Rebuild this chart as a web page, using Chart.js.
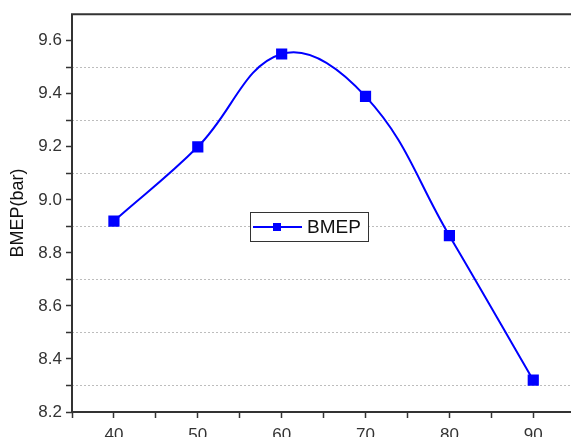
<!DOCTYPE html>
<html>
<head>
<meta charset="utf-8">
<script src="https://cdn.jsdelivr.net/npm/chart.js@4"></script>
<style>
  html, body { margin: 0; padding: 0; background: #fff; }
  #wrap { width: 571px; height: 437px; }
</style>
</head>
<body>
<div id="wrap"><canvas id="bmepChart"></canvas></div>
<script>
var loadPct = [40, 50, 60, 70, 80, 90];
var bmep = [8.92, 9.2, 9.55, 9.39, 8.865, 8.32];
var xTickVals = [35, 40, 45, 50, 55, 60, 65, 70, 75, 80, 85, 90];
var seriesName = 'BMEP';
var yTitle = 'BMEP(bar)';

var pts = [];
for (let i = 0; i < loadPct.length; i++) {
    pts.push({ x: loadPct[i], y: bmep[i] });
}

function isMinor(v) {
    return Math.abs(Math.round(v * 10) % 2) === 1;
}

var fontFam = '"Liberation Sans", Arial, sans-serif';

// axis lines, top frame line + floating legend box like Origin's
var frameAndLegend = {
    id: 'frameAndLegend',
    afterDraw(chart) {
        const c = chart.ctx;
        const a = chart.chartArea;
        c.save();
        c.strokeStyle = '#333';
        c.lineWidth = 2;
        c.beginPath();
        c.moveTo(a.right, a.top);
        c.lineTo(a.left, a.top);
        c.lineTo(a.left, a.bottom);
        c.lineTo(a.right, a.bottom);
        c.stroke();

        const ds = chart.data.datasets[0];
        const bx = 250, by = 212, bw = 118, bh = 29;
        c.fillStyle = '#fff';
        c.fillRect(bx, by, bw, bh);
        c.strokeStyle = '#333';
        c.lineWidth = 1;
        c.strokeRect(bx + 0.5, by + 0.5, bw, bh);
        c.strokeStyle = ds.borderColor;
        c.lineWidth = 2;
        c.beginPath();
        c.moveTo(bx + 3, by + 15);
        c.lineTo(bx + 52, by + 15);
        c.stroke();
        c.fillStyle = ds.backgroundColor;
        c.fillRect(bx + 23, by + 11, 8, 8);
        c.fillStyle = '#111';
        c.font = '19px ' + fontFam;
        c.textBaseline = 'middle';
        c.fillText(ds.label, bx + 57, by + 16);
        c.restore();
    }
};

new Chart(
    document.getElementById('bmepChart'),
    {
        type: 'scatter',
        data: {
            datasets: [
                {
                    label: seriesName,
                    data: pts,
                    showLine: true,
                    borderColor: '#0000ff',
                    backgroundColor: '#0000ff',
                    borderWidth: 2,
                    pointStyle: 'rect',
                    pointRadius: 6.5,
                    pointHoverRadius: 6.5,
                    tension: 0.4
                }
            ]
        },
        options: {
            animation: false,
            responsive: true,
            maintainAspectRatio: false,
            layout: { autoPadding: false, padding: { top: 11, right: 0, left: 0, bottom: 0 } },
            plugins: {
                legend: { display: false },
                tooltip: { enabled: false }
            },
            scales: {
                x: {
                    type: 'linear',
                    min: 35,
                    max: 94.5,
                    afterBuildTicks(scale) {
                        scale.ticks = xTickVals.map(v => ({ value: v }));
                    },
                    afterFit(scale) { scale.height = 25; },
                    border: { display: false },
                    grid: {
                        drawOnChartArea: false,
                        drawTicks: true,
                        tickLength: 6,
                        tickColor: '#333',
                        tickWidth: 1.5
                    },
                    ticks: {
                        autoSkip: false,
                        maxRotation: 0,
                        padding: 7,
                        color: '#333',
                        font: { size: 17, family: fontFam },
                        callback: v => (v % 10 === 0 ? v : '')
                    }
                },
                y: {
                    min: 8.2,
                    max: 9.7,
                    afterBuildTicks(scale) {
                        scale.ticks = scale.ticks.filter(t => t.value < 9.65);
                    },
                    afterFit(scale) { scale.width = 72; },
                    border: { display: false, dash: [2, 2] },
                    title: {
                        display: true,
                        text: yTitle,
                        color: '#111',
                        padding: { top: 7, bottom: 0 },
                        font: { size: 18, family: fontFam }
                    },
                    grid: {
                        drawTicks: true,
                        tickLength: 6,
                        tickWidth: 1.5,
                        tickColor: '#333',
                        tickBorderDash: [],
                        lineWidth: 1,
                        color: ctx => (ctx.tick && isMinor(ctx.tick.value) ? '#bdbdbd' : 'rgba(0,0,0,0)')
                    },
                    ticks: {
                        stepSize: 0.1,
                        autoSkip: false,
                        padding: 4,
                        color: '#333',
                        font: { size: 17, family: fontFam },
                        callback: v => (isMinor(v) ? '' : v.toFixed(1))
                    }
                }
            }
        },
        plugins: [frameAndLegend]
    });
</script>
</body>
</html>
